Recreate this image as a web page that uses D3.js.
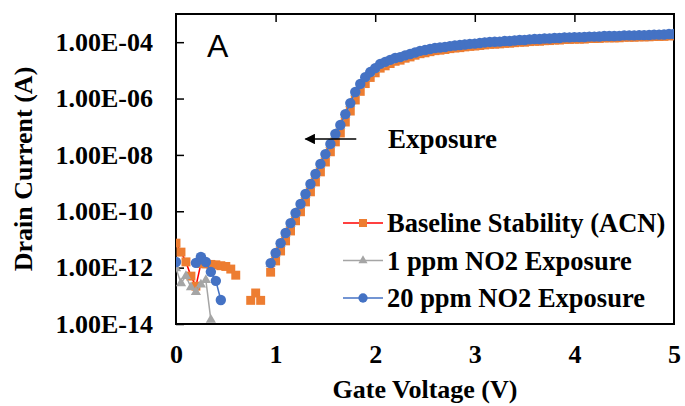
<!DOCTYPE html>
<html>
<head>
<meta charset="utf-8">
<script src="https://cdn.jsdelivr.net/npm/d3@7"></script>
<style>
  body { margin: 0; background: #fff; }
</style>
</head>
<body>
<div id="chart"></div>
<script>
// Gate voltage sweep (V)
var voltage = [
  0, 0.05, 0.1, 0.15, 0.2, 0.25, 0.3, 0.35, 0.4, 0.45,
  0.5, 0.55, 0.6, 0.65, 0.7, 0.75, 0.8, 0.85, 0.9, 0.95,
  1.0, 1.05, 1.1, 1.15, 1.2, 1.25, 1.3, 1.35, 1.4, 1.45,
  1.5, 1.55, 1.6, 1.65, 1.7, 1.75, 1.8, 1.85, 1.9, 1.95,
  2.0, 2.05, 2.1, 2.15, 2.2, 2.25, 2.3, 2.35, 2.4, 2.45,
  2.5, 2.55, 2.6, 2.65, 2.7, 2.75, 2.8, 2.85, 2.9, 2.95,
  3.0, 3.05, 3.1, 3.15, 3.2, 3.25, 3.3, 3.35, 3.4, 3.45,
  3.5, 3.55, 3.6, 3.65, 3.7, 3.75, 3.8, 3.85, 3.9, 3.95,
  4.0, 4.05, 4.1, 4.15, 4.2, 4.25, 4.3, 4.35, 4.4, 4.45,
  4.5, 4.55, 4.6, 4.65, 4.7, 4.75, 4.8, 4.85, 4.9, 4.95,
  5.0
];

// Drain current (A), null = not shown on log axis
var baseline = [
  7.4e-12, 3.55e-12, 1.6e-12, 5.0e-13, 2.2e-13, 1.4e-12, 1.35e-12, 1.3e-12, 1.26e-12, 1.17e-12,
  1.1e-12, 8.9e-13, 5.4e-13, null, null, 6.9e-14, 1.26e-13, 6.9e-14, null, 6.9e-13,
  1.73e-12, 3.9e-12, 8.9e-12, 2.0e-11, 4.6e-11, 9.6e-11, 2.15e-10, 4.9e-10, 1.1e-9, 2.5e-9,
  5.6e-9, 1.29e-8, 2.9e-8, 6.0e-8, 1.47e-7, 3.6e-7, 8.9e-7, 1.8e-6, 3.4e-6, 5.6e-6,
  8.2e-6, 1.2e-5, 1.45e-5, 1.75e-5, 2.1e-5, 2.3e-5, 2.7e-5, 3.0e-5, 3.45e-5, 3.9e-5,
  4.2e-5, 4.6e-5, 5.0e-5, 5.2e-5, 5.5e-5, 5.9e-5, 6.2e-5, 6.4e-5, 6.8e-5, 7.1e-5,
  7.3e-5, 7.6e-5, 8.0e-5, 8.4e-5, 8.5e-5, 8.7e-5, 9.1e-5, 9.2e-5, 9.6e-5, 1.0e-4,
  1.0e-4, 1.05e-4, 1.08e-4, 1.08e-4, 1.13e-4, 1.14e-4, 1.19e-4, 1.19e-4, 1.25e-4, 1.25e-4,
  1.28e-4, 1.28e-4, 1.29e-4, 1.35e-4, 1.35e-4, 1.36e-4, 1.42e-4, 1.42e-4, 1.42e-4, 1.43e-4,
  1.5e-4, 1.5e-4, 1.5e-4, 1.54e-4, 1.54e-4, 1.55e-4, 1.6e-4, 1.6e-4, 1.61e-4, 1.68e-4,
  1.68e-4
];

var ppm1 = [
  9.5e-13, 2.8e-13, 5.0e-13, 2.0e-13, 1.35e-13, 2.5e-13, 3.6e-13, 1.4e-14, null, null,
  null, null, null, null, null, null, null, null, null, 1.35e-12,
  3.1e-12, 6.9e-12, 1.6e-11, 3.5e-11, 8.1e-11, 1.7e-10, 3.8e-10, 8.7e-10, 1.95e-9, 4.5e-9,
  1.0e-8, 2.3e-8, 5.1e-8, 1.07e-7, 2.6e-7, 6.4e-7, 1.6e-6, 3.1e-6, 5.4e-6, 8.1e-6,
  1.12e-5, 1.6e-5, 1.9e-5, 2.2e-5, 2.6e-5, 2.8e-5, 3.2e-5, 3.6e-5, 4.0e-5, 4.6e-5,
  4.9e-5, 5.4e-5, 5.8e-5, 6.0e-5, 6.3e-5, 6.8e-5, 7.1e-5, 7.4e-5, 7.8e-5, 8.1e-5,
  8.3e-5, 8.7e-5, 9.2e-5, 9.5e-5, 9.6e-5, 9.8e-5, 1.03e-4, 1.03e-4, 1.07e-4, 1.12e-4,
  1.12e-4, 1.18e-4, 1.2e-4, 1.2e-4, 1.26e-4, 1.26e-4, 1.32e-4, 1.32e-4, 1.38e-4, 1.38e-4,
  1.41e-4, 1.41e-4, 1.42e-4, 1.48e-4, 1.48e-4, 1.49e-4, 1.55e-4, 1.55e-4, 1.55e-4, 1.56e-4,
  1.62e-4, 1.62e-4, 1.63e-4, 1.66e-4, 1.66e-4, 1.67e-4, 1.74e-4, 1.74e-4, 1.75e-4, 1.82e-4,
  1.82e-4
];

var ppm20 = [
  1.58e-12, null, null, null, 1.48e-12, 2.4e-12, 1.58e-12, 7.1e-13, 3.4e-13, 7.1e-14,
  null, null, null, null, null, null, null, null, null, 1.45e-12,
  3.3e-12, 7.4e-12, 1.7e-11, 3.8e-11, 8.7e-11, 1.82e-10, 4.1e-10, 9.3e-10, 2.1e-9, 4.8e-9,
  1.07e-8, 2.45e-8, 5.5e-8, 1.15e-7, 2.8e-7, 6.9e-7, 1.7e-6, 3.3e-6, 5.75e-6, 8.7e-6,
  1.2e-5, 1.7e-5, 2.0e-5, 2.35e-5, 2.75e-5, 2.95e-5, 3.4e-5, 3.8e-5, 4.3e-5, 4.9e-5,
  5.25e-5, 5.75e-5, 6.2e-5, 6.45e-5, 6.75e-5, 7.25e-5, 7.6e-5, 7.9e-5, 8.3e-5, 8.7e-5,
  8.9e-5, 9.3e-5, 9.8e-5, 1.02e-4, 1.03e-4, 1.05e-4, 1.1e-4, 1.1e-4, 1.15e-4, 1.2e-4,
  1.2e-4, 1.26e-4, 1.29e-4, 1.29e-4, 1.35e-4, 1.35e-4, 1.41e-4, 1.41e-4, 1.48e-4, 1.48e-4,
  1.51e-4, 1.51e-4, 1.52e-4, 1.58e-4, 1.58e-4, 1.59e-4, 1.66e-4, 1.66e-4, 1.66e-4, 1.67e-4,
  1.74e-4, 1.74e-4, 1.75e-4, 1.78e-4, 1.78e-4, 1.79e-4, 1.86e-4, 1.86e-4, 1.87e-4, 1.95e-4,
  1.95e-4
];

var seriesNames = ["Baseline Stability (ACN)", "1 ppm NO2 Exposure", "20 ppm NO2 Exposure"];
var xTicks = [0, 1, 2, 3, 4, 5];
var yTicks = [1e-14, 1e-12, 1e-10, 1e-8, 1e-6, 1e-4];

// Canvas attributes
var width = 685;
var height = 406;
var plot = { left: 176, right: 674, top: 14, bottom: 324 };
var serif = "Liberation Serif, Times New Roman, serif";

var svg = d3
  .select("#chart")
  .append("svg")
  .attr("width", width)
  .attr("height", height);

// Scales
var xScale = d3.scaleLinear().domain([0, 5]).range([plot.left, plot.right]);
var yScale = d3.scaleLog().domain([1e-14, 1e-3]).range([plot.bottom, plot.top]);

function sciLabel(v) {
  var e = Math.round(Math.log10(v));
  var s = Math.abs(e) < 10 ? "0" + Math.abs(e) : "" + Math.abs(e);
  return "1.00E" + (e < 0 ? "-" : "+") + s;
}

// Top axis carries the x tick marks (pointing down)
var topAxis = svg
  .append("g")
  .attr("transform", "translate(0," + plot.top + ")")
  .call(d3.axisTop(xScale).tickValues(xTicks.slice(1, 5)).tickSizeInner(-8).tickSizeOuter(0).tickFormat(""));
topAxis.select(".domain").remove();

// Bottom axis labels
var bottomAxis = svg
  .append("g")
  .attr("transform", "translate(0," + plot.bottom + ")")
  .call(d3.axisBottom(xScale).tickValues(xTicks).tickSize(0).tickPadding(21).tickFormat(d3.format("d")));
bottomAxis.select(".domain").remove();
bottomAxis.selectAll("text").attr("font-family", serif).attr("font-weight", "bold").attr("font-size", 26).attr("fill", "#000");

// Left axis
var leftAxis = svg
  .append("g")
  .attr("transform", "translate(" + plot.left + ",0)")
  .call(d3.axisLeft(yScale).tickValues(yTicks).tickSizeInner(-8).tickSizeOuter(0).tickPadding(23).tickFormat(sciLabel));
leftAxis.select(".domain").remove();
leftAxis.selectAll("text").attr("font-family", serif).attr("font-weight", "bold").attr("font-size", 26).attr("fill", "#000");
leftAxis.selectAll("line").attr("stroke", "#000").attr("stroke-width", 1.5);
topAxis.selectAll("line").attr("stroke", "#000").attr("stroke-width", 1.5);

// Plot frame
svg
  .append("rect")
  .attr("x", plot.left)
  .attr("y", plot.top)
  .attr("width", plot.right - plot.left)
  .attr("height", plot.bottom - plot.top)
  .attr("fill", "none")
  .attr("stroke", "#000")
  .attr("stroke-width", 2);

// Axis titles
svg
  .append("text")
  .attr("x", (plot.left + plot.right) / 2)
  .attr("y", 398)
  .attr("text-anchor", "middle")
  .attr("font-family", serif)
  .attr("font-weight", "bold")
  .attr("font-size", 26)
  .text("Gate Voltage (V)");

svg
  .append("text")
  .attr("transform", "translate(32," + (plot.top + plot.bottom) / 2 + ")rotate(-90)")
  .attr("text-anchor", "middle")
  .attr("font-family", serif)
  .attr("font-weight", "bold")
  .attr("font-size", 26)
  .text("Drain Current (A)");

// Clip marks to plot area
svg.append("clipPath").attr("id", "clip")
  .append("rect")
  .attr("x", plot.left)
  .attr("y", plot.top)
  .attr("width", plot.right - plot.left)
  .attr("height", plot.bottom - plot.top);

var series = [
  { name: seriesNames[0], values: baseline, line: "#FF0000", fill: "#ED7D31", symbol: d3.symbolSquare, size: 80 },
  { name: seriesNames[1], values: ppm1, line: "#A5A5A5", fill: "#A5A5A5", symbol: d3.symbolTriangle, size: 45 },
  { name: seriesNames[2], values: ppm20, line: "#4472C4", fill: "#4472C4", symbol: d3.symbolCircle, size: 85 }
];

var lineGen = d3
  .line()
  .defined(function(d) { return d.i != null; })
  .x(function(d) { return xScale(d.v); })
  .y(function(d) { return yScale(d.i); });

var marks = svg.append("g").attr("clip-path", "url(#clip)");

series.forEach(function(s) {
  var pts = voltage.map(function(v, k) { return { v: v, i: s.values[k] }; });
  marks
    .append("path")
    .datum(pts)
    .attr("d", lineGen)
    .attr("fill", "none")
    .attr("stroke", s.line)
    .attr("stroke-width", 1.5);
  marks
    .selectAll(null)
    .data(pts.filter(function(d) { return d.i != null; }))
    .enter()
    .append("path")
    .attr("d", d3.symbol().type(s.symbol).size(s.size))
    .attr("transform", function(d) {
      return "translate(" + xScale(d.v) + "," + yScale(d.i) + ")";
    })
    .attr("fill", s.fill);
});

// Legend
var legend = svg.append("g");
series.forEach(function(s, k) {
  var ly = 223 + k * 37.5;
  legend.append("line")
    .attr("x1", 343).attr("x2", 383)
    .attr("y1", ly).attr("y2", ly)
    .attr("stroke", s.line).attr("stroke-width", 1.5);
  legend.append("path")
    .attr("d", d3.symbol().type(s.symbol).size(s.size * 0.8))
    .attr("transform", "translate(363," + ly + ")")
    .attr("fill", s.fill);
  legend.append("text")
    .attr("x", 387)
    .attr("y", ly + 9)
    .attr("font-family", serif)
    .attr("font-weight", "bold")
    .attr("font-size", 26.5)
    .text(s.name);
});

// Panel letter
svg
  .append("text")
  .attr("x", 207)
  .attr("y", 57)
  .attr("font-family", "Liberation Sans, Arial, sans-serif")
  .attr("font-size", 32)
  .text("A");

// Exposure annotation with arrow
svg.append("defs")
  .append("marker")
  .attr("id", "arrowhead")
  .attr("viewBox", "0 0 10 10")
  .attr("refX", 9)
  .attr("refY", 5)
  .attr("markerWidth", 7)
  .attr("markerHeight", 7)
  .attr("orient", "auto")
  .append("path")
  .attr("d", "M0,0L10,5L0,10z")
  .attr("fill", "#000");

svg
  .append("line")
  .attr("x1", xScale(1.81))
  .attr("y1", 139)
  .attr("x2", xScale(1.3))
  .attr("y2", 139)
  .attr("stroke", "#000")
  .attr("stroke-width", 1.5)
  .attr("marker-end", "url(#arrowhead)");

svg
  .append("text")
  .attr("x", 388)
  .attr("y", 148)
  .attr("font-family", serif)
  .attr("font-weight", "bold")
  .attr("font-size", 27)
  .text("Exposure");
</script>
</body>
</html>
